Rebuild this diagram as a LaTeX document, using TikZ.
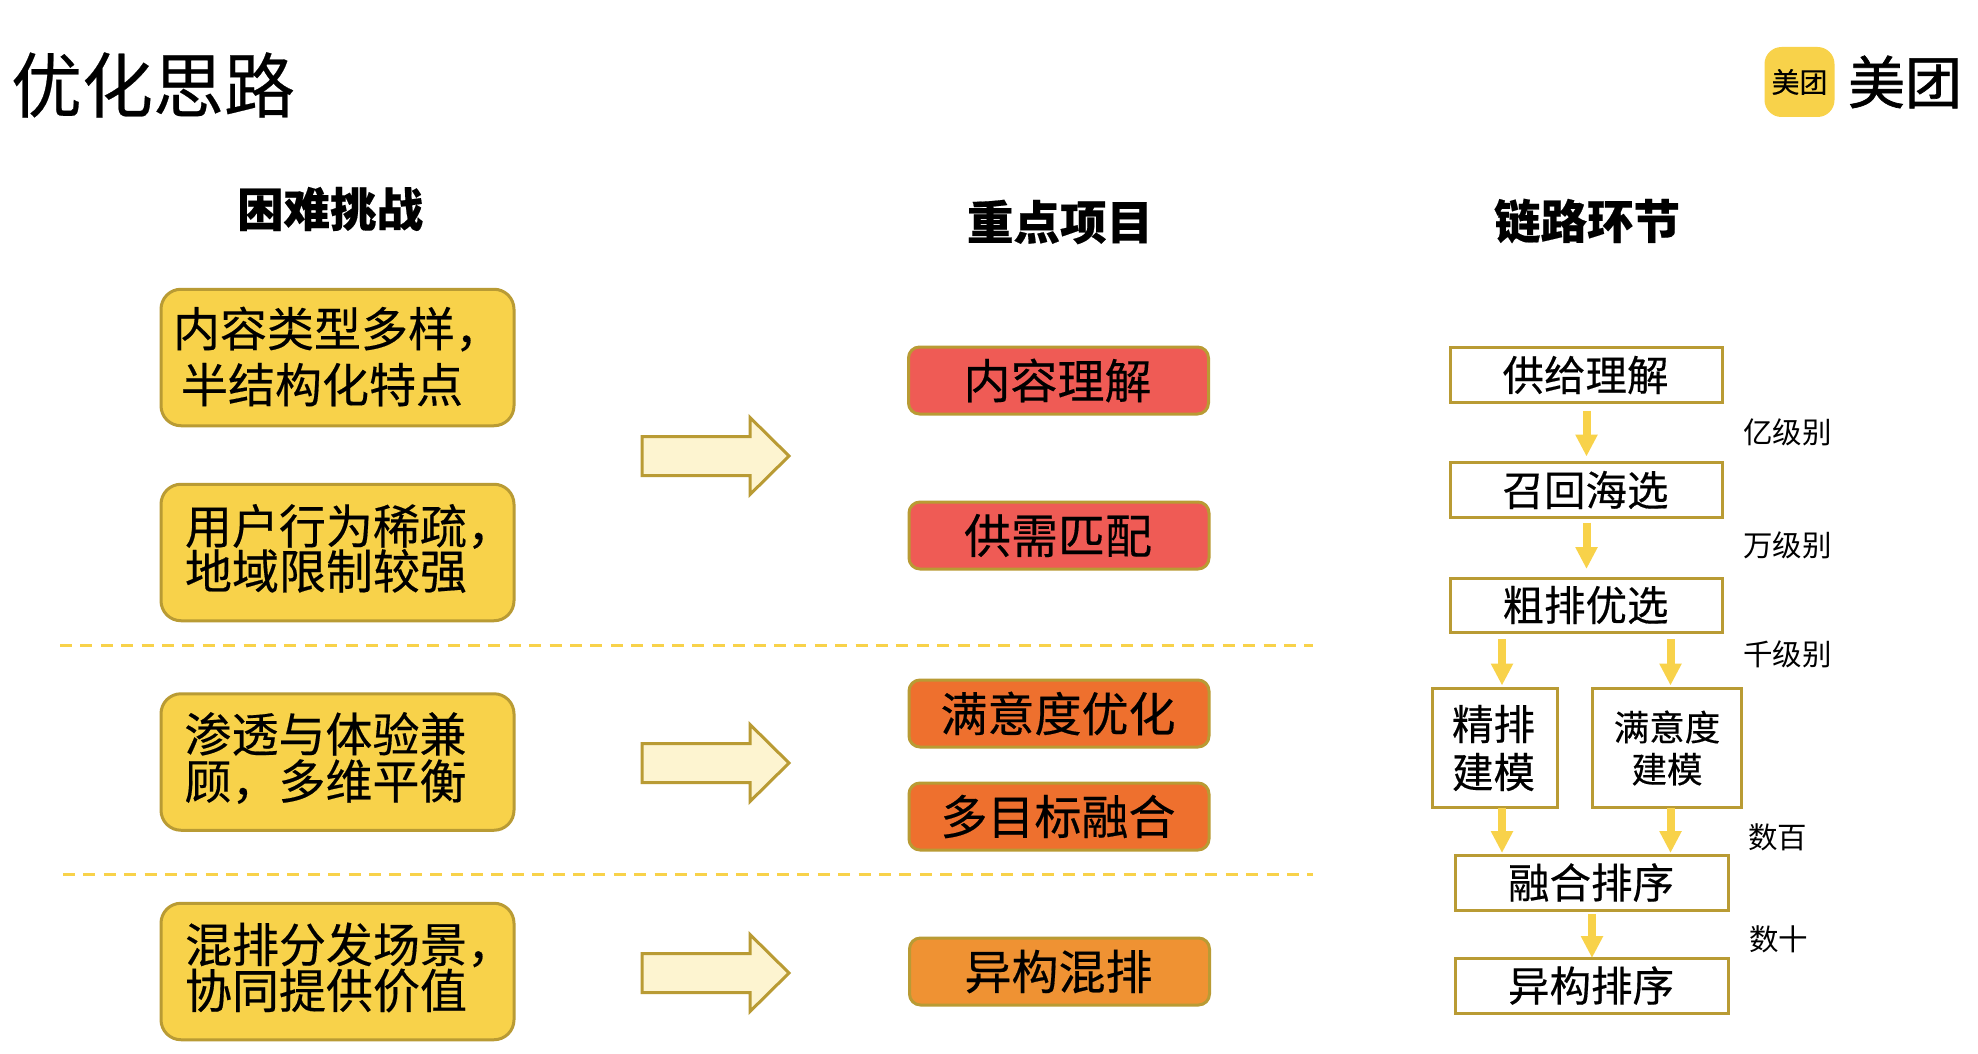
\documentclass[tikz,border=0pt]{standalone}
\usepackage{fontspec}
\setmainfont{Noto Sans CJK SC}
\newfontfamily\heavy[FakeBold=0.35]{Noto Sans CJK SC}
\newfontfamily\logofont[FakeBold=1.2]{Noto Sans CJK SC}
\usetikzlibrary{arrows.meta}
\definecolor{gold}{HTML}{F8D24A}
\definecolor{edge}{HTML}{B99B34}
\definecolor{pale}{HTML}{FDF4D0}
\definecolor{redbox}{HTML}{EF5B55}
\definecolor{orangebox}{HTML}{EE702E}
\definecolor{amberbox}{HTML}{EF9233}
\newcommand{\fs}[2]{\fontsize{#1}{#2}\selectfont}
\tikzset{
  x=1pt,y=-1pt,
  every node/.style={inner sep=0pt,outer sep=0pt,text=black},
  header/.style={font=\heavy\fs{46.5}{50}\bfseries},
  challenge/.style={draw=edge,fill=gold,line width=3pt,rounded corners=20pt,minimum width=353pt,minimum height=136.5pt},
  challengetext/.style={align=left,font=\heavy\fs{47}{#1}},
  project/.style={draw=edge,line width=3pt,rounded corners=11pt,minimum width=300pt,minimum height=67pt,font=\heavy\fs{47}{50}},
  stage/.style={draw=edge,line width=3pt,fill=white,align=center,font=\heavy\fs{41.5}{48}},
  level/.style={font=\fs{29.5}{32}},
  flow/.style={draw=gold,line width=8pt,-{Triangle[length=22pt,width=21pt,fill=gold]}},
  divider/.style={draw=gold,line width=3pt,dash pattern=on 12pt off 8.4pt},
  bigarrow/.style={draw=edge,fill=pale,line width=3pt,miter limit=10},
}
\newcommand{\bigarrowat}[1]{%
  \draw[bigarrow] (642,#1-19.5) -- (750,#1-19.5) -- (750,#1-38.5) -- (789,#1) -- (750,#1+38.5) -- (750,#1+19.5) -- (642,#1+19.5) -- cycle;}
\begin{document}
\begin{tikzpicture}
\useasboundingbox (0,0) rectangle (1978,1054);
\fill[white] (0,0) rectangle (1978,1054);
% title and logo
\node[font=\heavy\fs{71}{76}] (title) at (153,85) {优化思路};
\node[fill=gold,rounded corners=17pt,minimum width=70pt,minimum height=70pt,font=\heavy\fs{28}{30}] (logoicon) at (1799.5,82) {美团};
\node[font=\logofont\fs{57}{60}] (logoword) at (1905,82) {美团};
% headers
\node[header] (h1) at (330,209) {困难挑战};
\node[header] (h2) at (1060,222) {重点项目};
\node[header] (h3) at (1587,221) {链路环节};
% challenges
\node[challenge,label={[challengetext=56,xshift=0pt,yshift=1pt]center:内容类型多样，\\\hspace*{8pt}半结构化特点}] (c1) at (337.5,357.5) {};
\node[challenge,label={[challengetext=45,xshift=12pt,yshift=4pt]center:用户行为稀疏，\\地域限制较强}] (c2) at (337.5,552.5) {};
\node[challenge,label={[challengetext=47,xshift=-12pt,yshift=4pt]center:渗透与体验兼\\顾，多维平衡}] (c3) at (337.5,762) {};
\node[challenge,label={[challengetext=46,xshift=12pt,yshift=4pt]center:混排分发场景，\\协同提供价值}] (c4) at (337.5,971.5) {};
% big arrows
\bigarrowat{456}
\bigarrowat{763}
\bigarrowat{973}
% dividers
\coordinate (d1a) at (60,645); \coordinate (d1b) at (1313,645);
\coordinate (d2a) at (63,874); \coordinate (d2b) at (1313,874);
\draw[divider] (d1a) -- (d1b);
\draw[divider] (d2a) -- (d2b);
% projects
\node[project,fill=redbox] (p1) at (1058.5,380.5) {\kern-2pt 内容理解};
\node[project,fill=redbox] (p2) at (1059,535.5) {\kern-2pt 供需匹配};
\node[project,fill=orangebox] (p3) at (1059,713.5) {\kern-2pt 满意度优化};
\node[project,fill=orangebox] (p4) at (1059,816.5) {\kern-2pt 多目标融合};
\node[project,fill=amberbox] (p5) at (1059.5,971.5) {\kern-2pt 异构混排};
% chain
\node[stage,minimum width=272pt,minimum height=55pt] (s1) at (1586.5,375) {\kern-2pt 供给理解};
\node[stage,minimum width=272pt,minimum height=55pt] (s2) at (1586.5,490) {\kern-2pt 召回海选};
\node[stage,minimum width=272pt,minimum height=54pt] (s3) at (1586.5,605) {\kern-2pt 粗排优选};
\node[stage,minimum width=125pt,minimum height=119pt] (s4) at (1494.5,748) {\kern-2pt 精排\\\kern-2pt 建模};
\node[stage,minimum width=149pt,minimum height=119pt,font=\heavy\fs{35.5}{42}] (s5) at (1667,748) {满意度\\建模};
\node[stage,minimum width=273pt,minimum height=55pt] (s6) at (1592,882.5) {\kern-2pt 融合排序};
\node[stage,minimum width=273pt,minimum height=55pt] (s7) at (1592,985.5) {\kern-2pt 异构排序};
% flow arrows
\draw[flow,shorten <=8pt,shorten >=6pt] (s1.south) -- (s2.north);
\draw[flow,shorten <=5pt,shorten >=9pt] (s2.south) -- (s3.north);
\draw[flow,shorten <=7pt,shorten >=3pt] ([xshift=-84.5pt]s3.south) -- ([xshift=7.5pt]s4.north);
\draw[flow,shorten <=7pt,shorten >=3pt] ([xshift=84pt]s3.south) -- ([xshift=3.5pt]s5.north);
\draw[flow,shorten >=2pt] ([xshift=7.5pt]s4.south) -- ([xshift=-90pt]s6.north);
\draw[flow,shorten >=2pt] ([xshift=3.5pt]s5.south) -- ([xshift=78.5pt]s6.north);
\draw[flow,shorten <=4pt] (s6.south) -- (s7.north);
% levels
\node[level,anchor=west] (l1) at (1743,432) {亿级别};
\node[level,anchor=west] (l2) at (1743,545) {万级别};
\node[level,anchor=west] (l3) at (1743,654) {千级别};
\node[level,anchor=west] (l4) at (1748,837) {数百};
\node[level,anchor=west] (l5) at (1749,939) {数十};
\end{tikzpicture}
\end{document}
